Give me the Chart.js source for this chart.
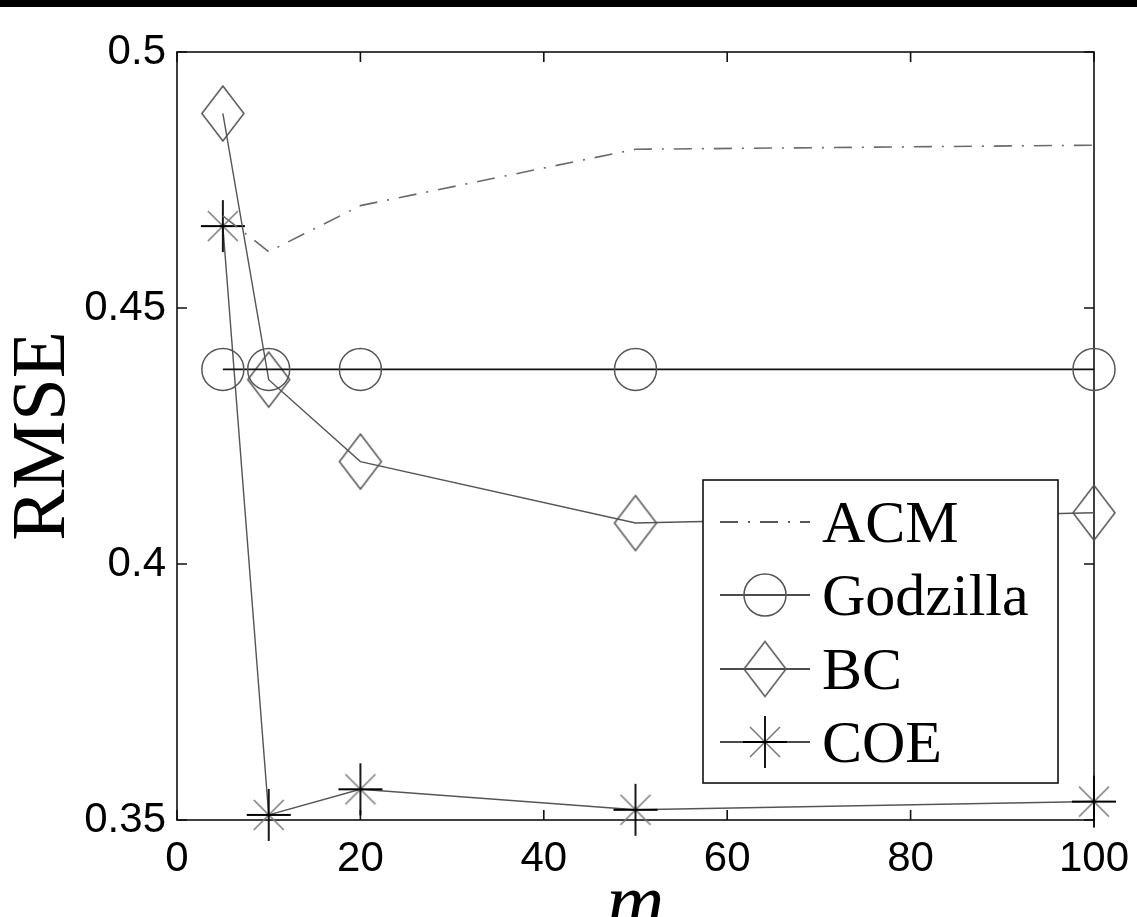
<!DOCTYPE html>
<html><head><meta charset="utf-8">
<script src="https://cdn.jsdelivr.net/npm/chart.js@4.4.0/dist/chart.umd.min.js"></script>
<style>
html,body{margin:0;padding:0;background:#fff;overflow:hidden;width:1137px;height:917px}
#wrap{position:absolute;left:0;top:0;width:1137px;height:917px}
#bar{position:absolute;left:0;top:0;width:1137px;height:7px;background:#000;z-index:2}
</style></head><body>
<div id="bar"></div>
<div id="wrap"><canvas id="c" width="1137" height="917"></canvas></div>
<script>
// ---- data ----
const mValues   = [5, 10, 20, 50, 100];
const seriesNames = ['ACM', 'Godzilla', 'BC', 'COE'];
const acmRmse      = [0.468, 0.461, 0.470, 0.481, 0.4818];
const godzillaRmse = [0.438, 0.438, 0.438, 0.438, 0.438];
const bcRmse       = [0.488, 0.436, 0.420, 0.408, 0.410];
const coeRmse      = [0.466, 0.351, 0.356, 0.352, 0.3536];
const xTicks = [0, 20, 40, 60, 80, 100];
const xTickLabels = ['0', '20', '40', '60', '80', '100'];
const yTicks = [0.35, 0.4, 0.45, 0.5];
const yTickLabels = ['0.35', '0.4', '0.45', '0.5'];
const xTitle = 'm';
const yTitle = 'RMSE';

// ---- marker images ----
function diamondImg() {
  const c = document.createElement('canvas'); c.width = 46; c.height = 59;
  const g = c.getContext('2d');
  g.strokeStyle = '#555'; g.lineWidth = 1.5;
  g.beginPath(); g.moveTo(23, 2); g.lineTo(44, 29.5); g.lineTo(23, 57); g.lineTo(2, 29.5); g.closePath(); g.stroke();
  return c;
}
function starImg() {
  const c = document.createElement('canvas'); c.width = 48; c.height = 54;
  const g = c.getContext('2d');
  const cx = 24, cy = 27;
  g.strokeStyle = '#777'; g.lineWidth = 1.5;
  g.beginPath(); g.moveTo(cx - 15, cy - 15); g.lineTo(cx + 15, cy + 15);
  g.moveTo(cx + 15, cy - 15); g.lineTo(cx - 15, cy + 15); g.stroke();
  g.strokeStyle = '#000'; g.lineWidth = 1.8;
  g.beginPath(); g.moveTo(cx - 22, cy); g.lineTo(cx + 22, cy);
  g.moveTo(cx, cy - 26); g.lineTo(cx, cy + 26); g.stroke();
  return c;
}
const DIAMOND = diamondImg();
const STAR = starImg();
const ACM_DASH = [18, 10, 2, 10];

function pts(vals) { return mValues.map((m, i) => ({x: m, y: vals[i]})); }

// ---- frame, inward ticks, legend ----
const framePlugin = {
  id: 'frame',
  beforeDatasetsDraw(chart) {
    const {ctx, chartArea: a, scales: {x, y}} = chart;
    ctx.save();
    ctx.strokeStyle = '#111'; ctx.lineWidth = 1.6;
    ctx.strokeRect(a.left, a.top, a.right - a.left, a.bottom - a.top);
    ctx.beginPath();
    xTicks.forEach(v => {
      const px = x.getPixelForValue(v);
      ctx.moveTo(px, a.bottom); ctx.lineTo(px, a.bottom - 10);
      ctx.moveTo(px, a.top); ctx.lineTo(px, a.top + 10);
    });
    yTicks.forEach(v => {
      const py = y.getPixelForValue(v);
      ctx.moveTo(a.left, py); ctx.lineTo(a.left + 10, py);
      ctx.moveTo(a.right, py); ctx.lineTo(a.right - 10, py);
    });
    ctx.stroke();
    ctx.restore();
  },
  afterDraw(chart) {
    const ctx = chart.ctx;
    const box = {l: 703, t: 480, r: 1058, b: 783};
    ctx.save();
    ctx.fillStyle = '#fff';
    ctx.fillRect(box.l, box.t, box.r - box.l, box.b - box.t);
    ctx.strokeStyle = '#111'; ctx.lineWidth = 1.6;
    ctx.strokeRect(box.l, box.t, box.r - box.l, box.b - box.t);
    const rows = [522, 595, 669, 742];
    chart.data.datasets.forEach((ds, i) => {
      const ry = rows[i];
      ctx.beginPath();
      ctx.strokeStyle = i === 0 ? '#222' : '#111';
      ctx.lineWidth = 1.6;
      ctx.setLineDash(i === 0 ? ACM_DASH : []);
      ctx.moveTo(720, ry); ctx.lineTo(810, ry); ctx.stroke();
      ctx.setLineDash([]);
      const ps = ds.pointStyle;
      if (i === 1) {
        ctx.beginPath(); ctx.strokeStyle = '#555'; ctx.lineWidth = 1.5;
        ctx.arc(765, ry, 21, 0, Math.PI * 2); ctx.stroke();
      } else if (ps && typeof ps === 'object') {
        ctx.drawImage(ps, 765 - ps.width / 2, ry - ps.height / 2);
      }
      ctx.fillStyle = '#000';
      ctx.font = '60px "Liberation Serif", "Times New Roman", serif';
      ctx.textBaseline = 'alphabetic'; ctx.textAlign = 'left';
      ctx.fillText(ds.label, 822, ry + 20);
    });
    ctx.restore();
  }
};

new Chart(document.getElementById('c'), {
  type: 'line',
  data: {
    datasets: [
      {label: seriesNames[0], data: pts(acmRmse), borderColor: '#6a6a6a', borderWidth: 1.6,
       borderDash: ACM_DASH, pointRadius: 0, pointHitRadius: 0, fill: false, clip: false},
      {label: seriesNames[1], data: pts(godzillaRmse), borderColor: '#111', borderWidth: 1.8,
       pointStyle: 'circle', pointRadius: 21, pointBorderColor: '#555', pointBorderWidth: 1.5,
       pointBackgroundColor: 'rgba(0,0,0,0)', fill: false, clip: false},
      {label: seriesNames[2], data: pts(bcRmse), borderColor: '#555', borderWidth: 1.4,
       pointStyle: DIAMOND, pointRadius: 22, fill: false, clip: false},
      {label: seriesNames[3], data: pts(coeRmse), borderColor: '#555', borderWidth: 1.4,
       pointStyle: STAR, pointRadius: 22, fill: false, clip: false}
    ]
  },
  options: {
    responsive: false, animation: false, devicePixelRatio: 1,
    layout: {padding: {top: 52, right: 43, left: 0, bottom: 0}},
    elements: {line: {tension: 0}},
    plugins: {legend: {display: false}, tooltip: {enabled: false}},
    scales: {
      x: {
        type: 'linear', min: 0, max: 100,
        afterBuildTicks: s => { s.ticks = xTicks.map(v => ({value: v})); },
        afterFit: s => { s.height = 97; s.paddingLeft = 0; s.paddingRight = 0; },
        grid: {display: false, drawTicks: false}, border: {display: false},
        ticks: {color: '#000', padding: 14, maxRotation: 0, autoSkip: false,
                font: {family: '"Liberation Sans", Arial, sans-serif', size: 42},
                callback: (v, i) => xTickLabels[i]},
        title: {display: true, text: xTitle, color: '#000', padding: {top: 0, bottom: -10},
                font: {family: '"Liberation Serif", "Times New Roman", serif', style: 'italic', size: 80, lineHeight: 0.5}}
      },
      y: {
        type: 'linear', min: 0.35, max: 0.5,
        afterBuildTicks: s => { s.ticks = yTicks.map(v => ({value: v})); },
        afterFit: s => { s.width = 177; s.paddingTop = 0; s.paddingBottom = 0; },
        grid: {display: false, drawTicks: false}, border: {display: false},
        ticks: {color: '#000', padding: 11, autoSkip: false,
                font: {family: '"Liberation Sans", Arial, sans-serif', size: 42},
                callback: (v, i) => yTickLabels[i]},
        title: {display: true, text: yTitle, color: '#000', padding: {top: 5, bottom: 0},
                font: {family: '"Liberation Serif", "Times New Roman", serif', size: 77, lineHeight: 1}}
      }
    }
  },
  plugins: [framePlugin]
});
</script>
</body></html>
